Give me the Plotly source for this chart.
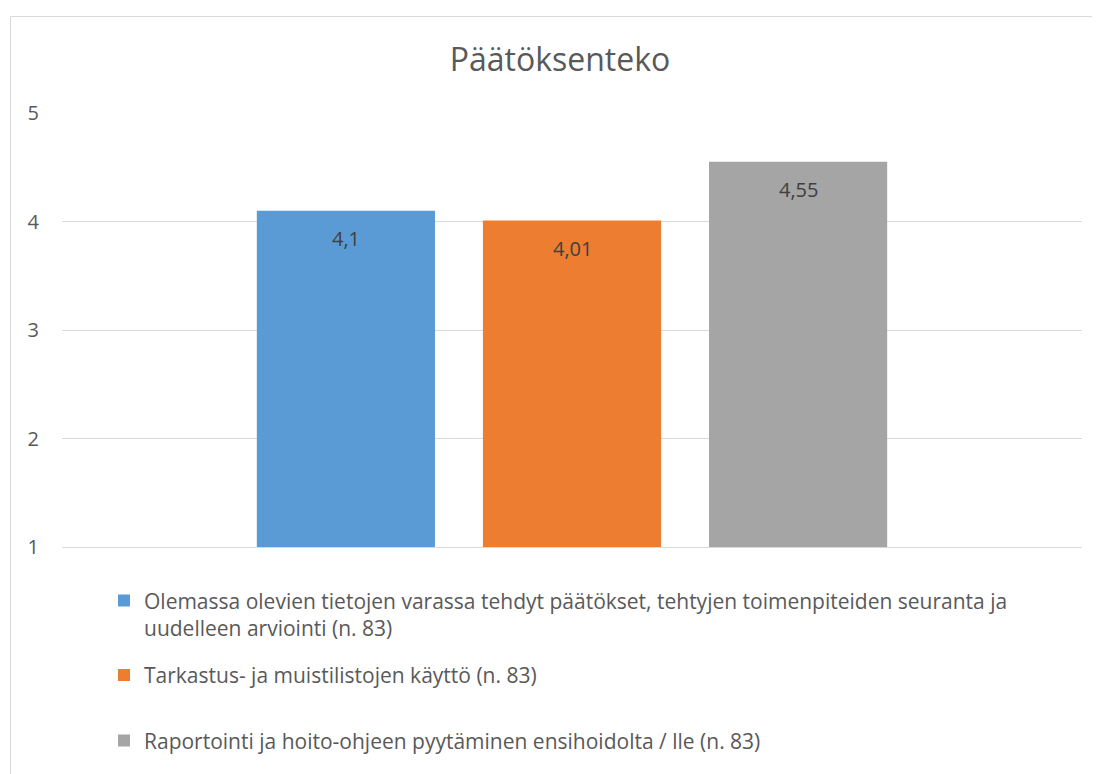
import plotly.graph_objects as go

title = "Päätöksenteko"
category = ["Päätöksenteko"]
series_names = [
    "Olemassa olevien tietojen varassa tehdyt päätökset, tehtyjen toimenpiteiden seuranta ja<br>uudelleen arviointi (n. 83)",
    "Tarkastus- ja muistilistojen käyttö (n. 83)",
    "Raportointi ja hoito-ohjeen pyytäminen ensihoidolta / lle (n. 83)",
]
series_values = [4.10, 4.01, 4.55]
colors = ["#5B9BD5", "#ED7D31", "#A5A5A5"]
y_ticks = [1, 2, 3, 4, 5]

# page has an 8px body margin; compensate
OFF = 8
W, H = 1100 - OFF, 774 - OFF
ML, MR, MT, MB = 62 - OFF, 18, 113 - OFF, 226 - OFF
pw = W - ML - MR
ph = H - MT - MB

def px_to_paper_x(px):
    return (px - OFF - ML) / pw

def px_to_paper_y(py):
    return (H - MB - (py - OFF)) / ph

font_family = "'Open Sans', sans-serif"
BARGAP = 0.335
BARGROUPGAP = 0.212

fig = go.Figure()
legend_ids = ["legend", "legend2", "legend3"]
for name, val, col, lid in zip(series_names, series_values, colors, legend_ids):
    fig.add_trace(go.Bar(
        x=category, y=[val], name=name, marker=dict(color=col, line=dict(width=0)),
        legend=lid, hoverinfo="skip",
    ))

# data labels placed just inside the top of each bar
n = len(series_values)
slot = (1 - BARGAP) / n
for i, val in enumerate(series_values):
    fig.add_annotation(
        x=(i - (n - 1) / 2) * slot, y=val, xref="x", yref="y",
        text=f"{val:g}".replace(".", ","), showarrow=False,
        yanchor="middle", yshift=-28,
        font=dict(color="#404040", size=20, family=font_family),
    )

legend_tops = [590, 666, 733]
legend_common = dict(
    xanchor="left", yanchor="top", bgcolor="rgba(0,0,0,0)",
    font=dict(size=21, color="#595959", family=font_family),
    valign="top", itemwidth=30,
)
layout_legends = {}
for lid, top in zip(legend_ids, legend_tops):
    layout_legends[lid] = dict(x=px_to_paper_x(104), y=px_to_paper_y(top), **legend_common)

fig.update_layout(
    width=W, height=H,
    margin=dict(l=ML, r=MR, t=MT, b=MB),
    paper_bgcolor="white", plot_bgcolor="white",
    separators=", ",
    barmode="group", bargap=BARGAP, bargroupgap=BARGROUPGAP,
    title=dict(text=title, x=(560 - OFF) / W, xanchor="center", y=1 - (60 - OFF) / H, yanchor="middle",
               font=dict(size=32, color="#595959", family=font_family)),
    xaxis=dict(showticklabels=False, showgrid=False, showline=True, linecolor="#D9D9D9",
               linewidth=1, zeroline=False, fixedrange=True),
    yaxis=dict(range=[1, 5], tickvals=y_ticks, ticktext=[str(t) for t in y_ticks],
               showgrid=True, gridcolor="#D9D9D9", gridwidth=1, zeroline=False,
               showline=False, ticks="", ticklabelstandoff=22,
               tickfont=dict(size=20, color="#595959", family=font_family)),
    showlegend=True,
    **layout_legends,
)

fig.add_shape(type="rect", xref="paper", yref="paper",
              x0=px_to_paper_x(10.5), x1=px_to_paper_x(1110), y0=px_to_paper_y(790), y1=px_to_paper_y(14.5),
              line=dict(color="#D9D9D9", width=1), fillcolor="rgba(0,0,0,0)", layer="below")

fig.write_html("out.html")
